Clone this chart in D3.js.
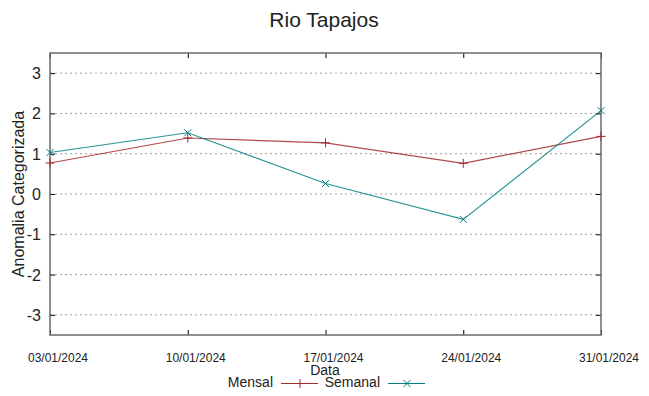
<!DOCTYPE html>
<html>
<head>
<meta charset="utf-8">
<script src="https://cdn.jsdelivr.net/npm/d3@7"></script>
<style>
  body { margin: 0; background: #fff; }
  text { font-family: "Liberation Sans", Arial, sans-serif; fill: #222; }
</style>
</head>
<body>
<script>
const width = 649,
    height = 396

const margin = { top: 53, right: 48, bottom: 61, left: 50 }

const dates = ["03/01/2024", "10/01/2024", "17/01/2024", "24/01/2024", "31/01/2024"]
const mensal = [0.77, 1.39, 1.27, 0.76, 1.43]
const semanal = [1.03, 1.52, 0.26, -0.63, 2.07]
const yTicks = [-3, -2, -1, 0, 1, 2, 3]

const parse = d3.timeParse("%d/%m/%Y")

const svg = d3.select("body")
    .append("svg")
    .attr("width", width)
    .attr("height", height)

const x = d3.scaleTime()
    .domain(d3.extent(dates, parse))
    .range([margin.left, width - margin.right])

const y = d3.scaleLinear()
    .domain([-3.5, 3.5])
    .range([height - margin.bottom, margin.top])

// grid
svg.append("g")
    .selectAll("line")
    .data(yTicks)
    .join("line")
    .attr("x1", margin.left)
    .attr("x2", width - margin.right)
    .attr("y1", d => y(d))
    .attr("y2", d => y(d))
    .attr("stroke", "#a0a0a0")
    .attr("stroke-width", 1)
    .attr("stroke-dasharray", "2,3")

// ticks (inward, mirrored)
const tickDates = dates.map(parse)
svg.append("g")
    .attr("transform", `translate(${margin.left},0)`)
    .call(d3.axisRight(y).tickValues(yTicks).tickSize(5).tickFormat(""))
    .call(g => g.select(".domain").remove())
svg.append("g")
    .attr("transform", `translate(${width - margin.right},0)`)
    .call(d3.axisLeft(y).tickValues(yTicks).tickSize(5).tickFormat(""))
    .call(g => g.select(".domain").remove())
svg.append("g")
    .attr("transform", `translate(0,${height - margin.bottom})`)
    .call(d3.axisTop(x).tickValues(tickDates).tickSize(5).tickFormat(""))
    .call(g => g.select(".domain").remove())
svg.append("g")
    .attr("transform", `translate(0,${margin.top})`)
    .call(d3.axisBottom(x).tickValues(tickDates).tickSize(5).tickFormat(""))
    .call(g => g.select(".domain").remove())

// border
svg.append("rect")
    .attr("x", margin.left)
    .attr("y", margin.top)
    .attr("width", width - margin.left - margin.right)
    .attr("height", height - margin.top - margin.bottom)
    .attr("fill", "none")
    .attr("stroke", "#6a6a6a")
    .attr("stroke-width", 1.5)

// tick labels
svg.append("g")
    .selectAll("text")
    .data(yTicks)
    .join("text")
    .attr("x", margin.left - 9)
    .attr("y", d => y(d) + 6)
    .attr("text-anchor", "end")
    .style("font-size", "16px")
    .text(d => d)

svg.append("g")
    .selectAll("text")
    .data(dates)
    .join("text")
    .attr("x", d => x(parse(d)) + 8)
    .attr("y", 362)
    .attr("text-anchor", "middle")
    .style("font-size", "12px")
    .text(d => d)

// titles
svg.append("text")
    .attr("x", 324)
    .attr("y", 27)
    .attr("text-anchor", "middle")
    .style("font-size", "21px")
    .text("Rio Tapajos")

svg.append("text")
    .attr("transform", `translate(24,${y(0)}) rotate(-90)`)
    .attr("text-anchor", "middle")
    .style("font-size", "16px")
    .text("Anomalia Categorizada")

svg.append("text")
    .attr("x", 325)
    .attr("y", 375)
    .attr("text-anchor", "middle")
    .style("font-size", "14px")
    .text("Data")

// series
const series = [
    { name: "Mensal", values: mensal, color: "#a52a2a", marker: "plus", lx: 273 },
    { name: "Semanal", values: semanal, color: "#008080", marker: "cross", lx: 380 }
]

const line = d3.line()
    .x((d, i) => x(parse(dates[i])))
    .y(d => y(d))

function marker(g, type, color) {
    const s = type === "plus" ? 4.5 : 3.5
    const p = type === "plus"
        ? `M${-s},0H${s}M0,${-s}V${s}`
        : `M${-s},${-s}L${s},${s}M${-s},${s}L${s},${-s}`
    g.append("path")
        .attr("d", p)
        .attr("stroke", color)
        .attr("stroke-width", 1)
        .attr("fill", "none")
}

series.forEach(s => {
    svg.append("path")
        .datum(s.values)
        .attr("d", line)
        .attr("fill", "none")
        .attr("stroke", s.color)
        .attr("stroke-width", 1.2)
        .attr("opacity", 0.85)

    s.values.forEach((v, i) => {
        const g = svg.append("g")
            .attr("transform", `translate(${x(parse(dates[i]))},${y(v)})`)
        marker(g, s.marker, s.color)
    })

    // legend
    svg.append("text")
        .attr("x", s.lx)
        .attr("y", 387)
        .attr("text-anchor", "end")
        .style("font-size", "14px")
        .text(s.name)
    svg.append("line")
        .attr("x1", s.lx + 8)
        .attr("x2", s.lx + 45)
        .attr("y1", 383.5)
        .attr("y2", 383.5)
        .attr("stroke", s.color)
        .attr("stroke-width", 1)
    const g = svg.append("g")
        .attr("transform", `translate(${s.lx + 27},383.5)`)
    marker(g, s.marker, s.color)
})
</script>
</body>
</html>
